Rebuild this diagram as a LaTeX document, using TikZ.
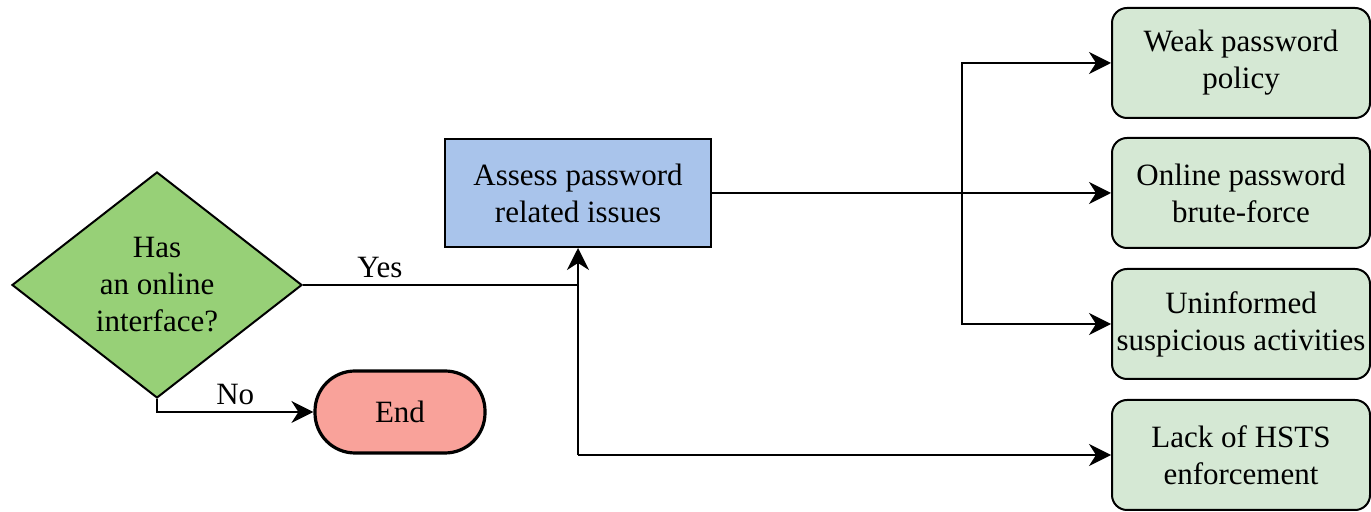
\documentclass[tikz,border=0pt]{standalone}
\usepackage{fontspec}
\setmainfont{LiberationSerif}[Extension=.ttf, UprightFont=*-Regular, BoldFont=*-Bold]
\usetikzlibrary{shapes.geometric,arrows.meta}
\definecolor{decgreen}{HTML}{97D077}
\definecolor{taskblue}{HTML}{A9C4EB}
\definecolor{endred}{HTML}{F9A29A}
\definecolor{issuegreen}{HTML}{D5E8D4}

\begin{document}
\begin{tikzpicture}[x=0.5pt,y=-0.5pt]
	\tikzstyle{every node}+=[inner sep=0pt, align=center, font=\rmfamily\fontsize{15.5}{18.5}\selectfont]
	\tikzstyle{flow}=[draw=black, line width=1pt, -{Stealth[length=11pt,width=11pt,inset=3.5pt]}]
	\tikzstyle{issue}=[draw=black, line width=1pt, fill=issuegreen, rounded corners=7.5pt, minimum width=129pt, minimum height=55pt]
	\useasboundingbox (0,0) rectangle (1371,512);
	% decision, task and end
	\node [diamond, draw=black, line width=1pt, fill=decgreen, minimum width=145pt, minimum height=113pt] (online) at (157,285) {Has\\an online\\interface?};
	\node [rectangle, draw=black, line width=1pt, fill=taskblue, minimum width=133pt, minimum height=54pt] (assess) at (578,193) {Assess password\\related issues};
	\node [rectangle, draw=black, line width=1.6pt, fill=endred, rounded corners=20pt, minimum width=85pt, minimum height=41pt] (end) at (400,412) {End};
	% password issues
	\node [issue] (weak) at (1241,63) {Weak password\\policy};
	\node [issue] (brute) at (1241,193) {Online password\\brute-force};
	\node [issue] (susp) at (1241,324) {Uninformed\\suspicious activities};
	\node [issue] (hsts) at (1241,455) {Lack of HSTS\\enforcement};
	% connectors
	\coordinate (split) at (assess.south |- hsts.west);
	\coordinate (fork) at (962,193);
	\draw [line width=1pt] (online.east) -- node [above=3pt, pos=0.28] {Yes} (assess.south |- online.east);
	\draw [flow] (split) -- (assess.south);
	\draw [flow] (split) -- (hsts.west);
	\draw [flow] (online.south) |- node [above=3pt, pos=0.75] {No} (end.west);
	\draw [flow] (assess.east) -- (brute.west);
	\draw [flow] (fork) |- (weak.west);
	\draw [flow] (fork) |- (susp.west);
\end{tikzpicture}
\end{document}
